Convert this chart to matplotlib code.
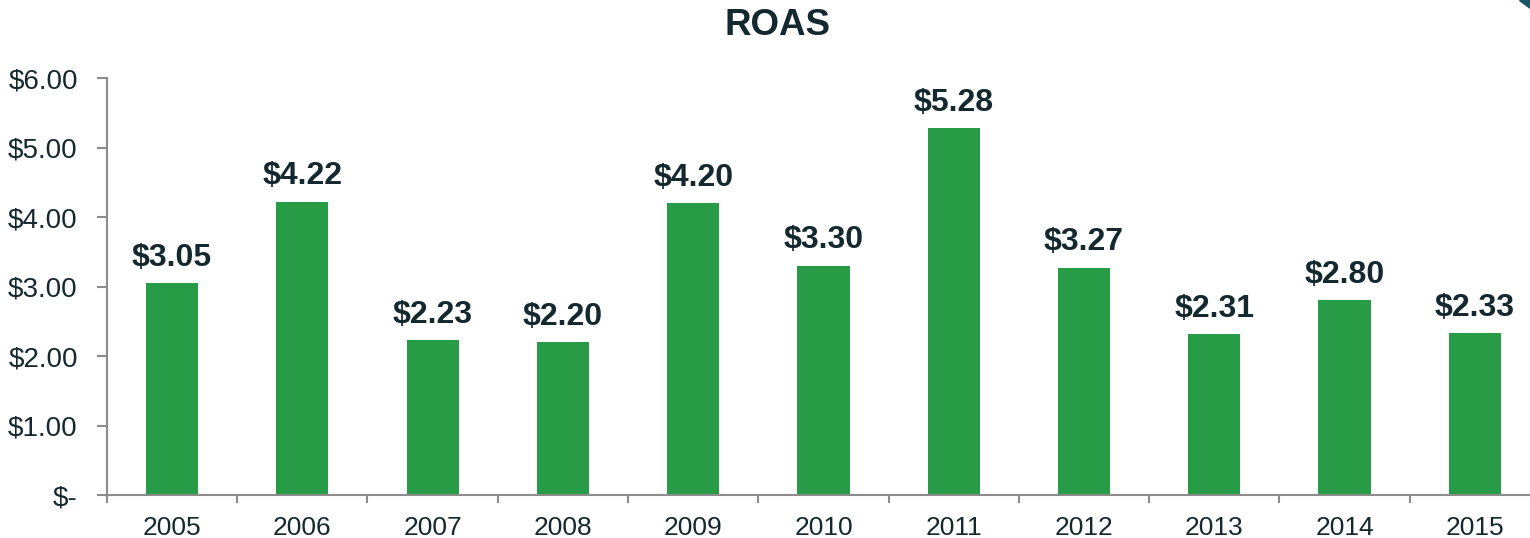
import numpy as np
import matplotlib.pyplot as plt

plt.rcParams['font.family'] = ['Liberation Sans', 'DejaVu Sans']

years = ['2005', '2006', '2007', '2008', '2009', '2010', '2011', '2012', '2013', '2014', '2015']
roas = [3.05, 4.22, 2.23, 2.20, 4.20, 3.30, 5.28, 3.27, 2.31, 2.80, 2.33]
yticks = [0, 1, 2, 3, 4, 5, 6]
ytick_labels = ['$-', '$1.00', '$2.00', '$3.00', '$4.00', '$5.00', '$6.00']

txt = '#14282f'
green = '#279b45'
grey = '#8c8c8c'

fig = plt.figure(figsize=(15.3, 5.38), dpi=100)
ax = fig.add_axes([0.0699, 0.0799, 0.9366, 0.775])

x = np.arange(len(years))
ax.bar(x, roas, width=0.4, color=green)
for xi, v in zip(x, roas):
    ax.text(xi, v + 0.15, '$%.2f' % v, ha='center', va='bottom',
            fontsize=23, fontweight='bold', color=txt)

ax.set_xlim(-0.5, len(years) - 0.5)
ax.set_ylim(0, 6)
ax.set_yticks(yticks)
ax.set_yticklabels(ytick_labels)
ax.set_xticks(x)
ax.set_xticklabels(years)
ax.set_xticks(np.arange(-0.5, len(years)), minor=True)
ax.tick_params(axis='x', which='major', length=0, pad=15, labelsize=19, labelcolor=txt)
ax.tick_params(axis='x', which='minor', length=6, width=1.5, color=grey, direction='out')
ax.tick_params(axis='y', length=7, width=1.5, color=grey, pad=14, labelsize=20, labelcolor=txt)

for s in ['top', 'right']:
    ax.spines[s].set_visible(False)
for s in ['left', 'bottom']:
    ax.spines[s].set_color(grey)
    ax.spines[s].set_linewidth(1.5)

fig.text(0.508, 0.952, 'ROAS', ha='center', va='center', fontsize=26.5,
         fontweight='bold', color=txt)

# corner decoration
fig.patches.append(plt.Polygon([[0.993, 1.0], [1.0, 1.0], [1.0, 0.985]],
                               closed=True, transform=fig.transFigure,
                               color='#1d5566'))

fig.savefig('out.png', dpi=100)
